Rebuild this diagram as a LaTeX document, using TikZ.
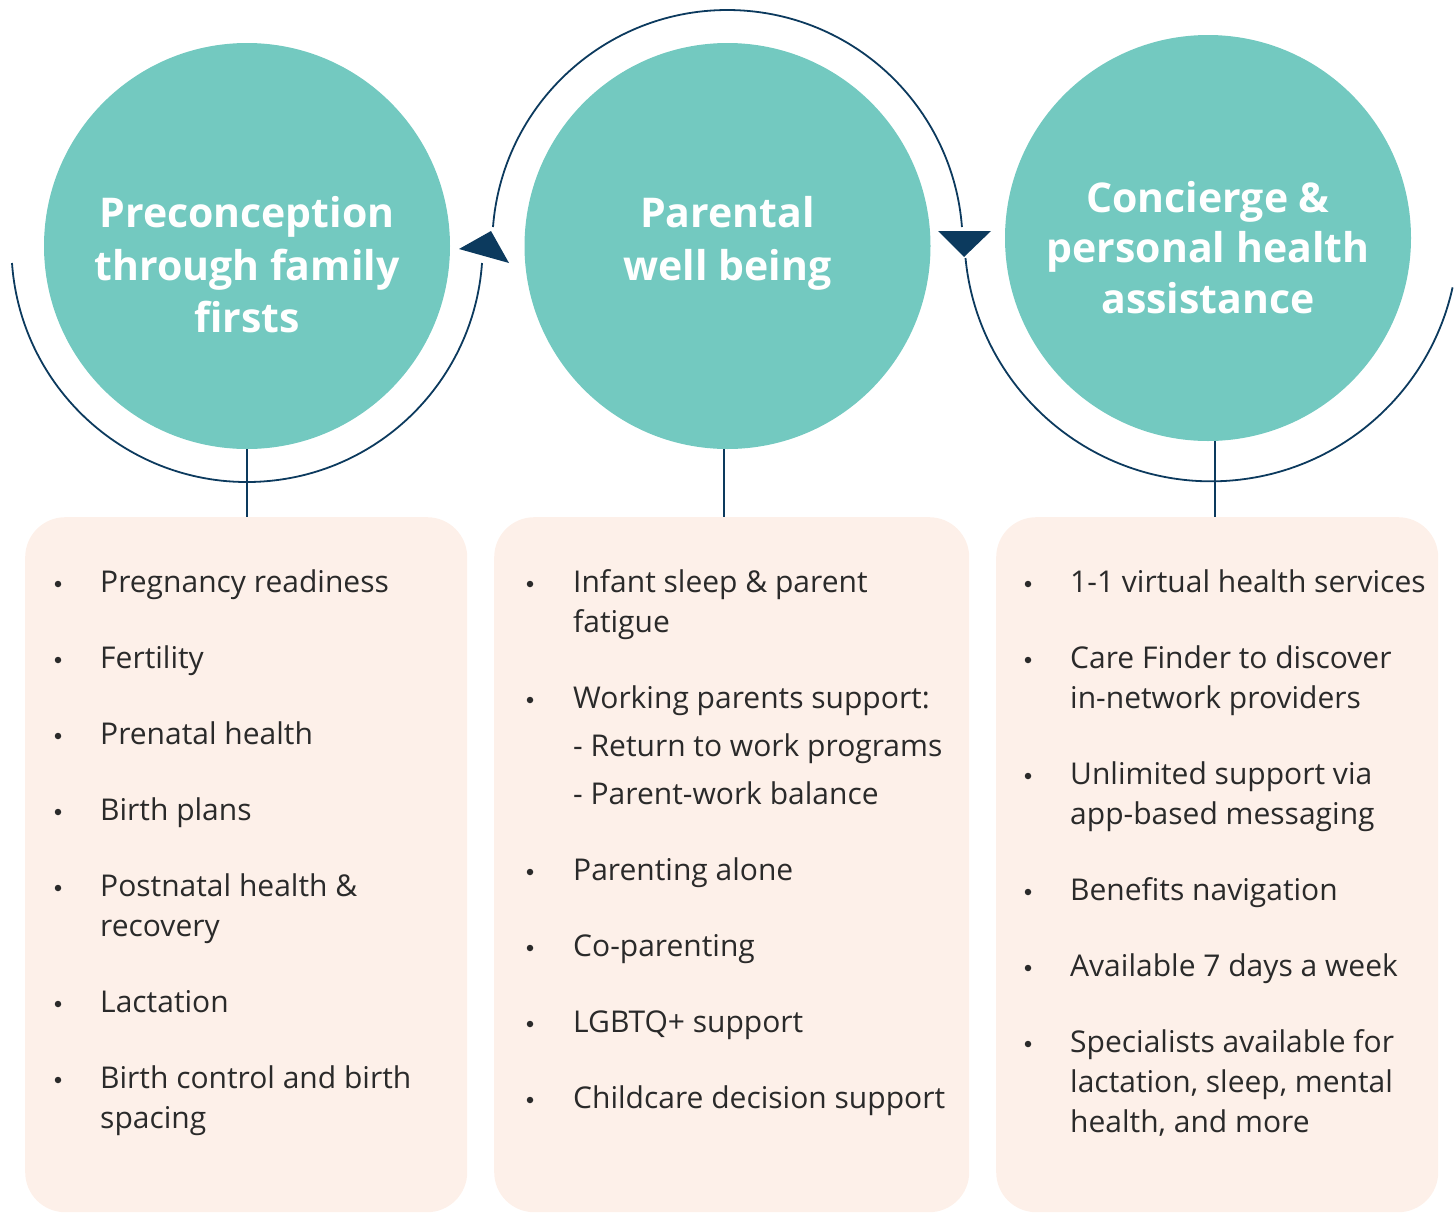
\documentclass[tikz,border=0pt]{standalone}
\usepackage{fontspec}
\setmainfont{Open Sans}
\definecolor{tealc}{HTML}{73C9C0}
\definecolor{navyc}{HTML}{0C3A5E}
\definecolor{peachc}{HTML}{FDF0E9}
\definecolor{textc}{HTML}{2A2A2A}
\begin{document}
\begin{tikzpicture}[x=1pt,y=-1pt,
  circ/.style={circle,fill=tealc,minimum size=406pt,inner sep=0pt},
  box/.style={rectangle,fill=peachc,rounded corners=40pt,anchor=north west,inner sep=0pt},
  ttl/.style={anchor=base,text=white,font=\fontsize{41}{50}\selectfont\bfseries,inner sep=0pt},
  item/.style={anchor=base west,text=textc,font=\fontsize{30}{34}\selectfont,inner sep=0pt},
  bul/.style={circle,fill=textc,minimum size=6.5pt,inner sep=0pt},
  ring/.style={draw=navyc,line width=1.8pt},
  conn/.style={draw=navyc,line width=2.6pt},
  head/.style={fill=navyc}]
\useasboundingbox (0,0) rectangle (1454,1213);
% circles
\node[circ] (c1) at (247,246) {};
\node[circ] (c2) at (727.5,246) {};
\node[circ] (c3) at (1208,238) {};
% titles
\node[ttl] (c1t1) at (247,227) {Preconception};
\node[ttl] (c1t2) at (247,280) {through family};
\node[ttl] (c1t3) at (247,332) {firsts};
\node[ttl] (c2t1) at (727.5,227) {Parental};
\node[ttl] (c2t2) at (727.5,280) {well being};
\node[ttl] (c3t1) at (1208,212) {Concierge \&};
\node[ttl] (c3t2) at (1208,262) {personal health};
\node[ttl] (c3t3) at (1208,313) {assistance};
% rings
\draw[ring] (12,263) arc[start angle=175.96,end angle=4.04,radius=235.6];
\draw[ring] (493,227) arc[start angle=184.44,end angle=355.56,radius=235.2];
\draw[ring] (965.5,258) arc[start angle=174.5,end angle=12.4,radius=247];
% arrow heads
\coordinate (h1a) at (491,231);
\coordinate (h1b) at (459,249);
\coordinate (h1c) at (509,263);
\coordinate (h2a) at (938,231);
\coordinate (h2b) at (991,231);
\coordinate (h2c) at (964,257);
\fill[head] (h1a) -- (h1b) -- (h1c) -- cycle;
\fill[head] (h2a) -- (h2b) -- (h2c) -- cycle;
% boxes
\node[box,minimum width=442pt,minimum height=695pt] (b1) at (25,517) {};
\node[box,minimum width=475pt,minimum height=695pt] (b2) at (494,517) {};
\node[box,minimum width=442pt,minimum height=695pt] (b3) at (996,517) {};
% connectors
\draw[conn] (c1.south) -- (c1.south |- b1.north);
\draw[conn] (724,449) -- (724,517);
\draw[conn] (1215,441) -- (1215,517);
% box 1
\foreach \i/\y in {1/584,2/660,3/736,4/812,5/888,6/1004,7/1080}
  \node[bul] (b1d\i) at (58,\y) {};
\node[item] (b1l1) at (100,592) {Pregnancy readiness};
\node[item] (b1l2) at (100,668) {Fertility};
\node[item] (b1l3) at (100,744) {Prenatal health};
\node[item] (b1l4) at (100,820) {Birth plans};
\node[item] (b1l5) at (100,896) {Postnatal health \&};
\node[item] (b1l6) at (100,936) {recovery};
\node[item] (b1l7) at (100,1012) {Lactation};
\node[item] (b1l8) at (100,1088) {Birth control and birth};
\node[item] (b1l9) at (100,1128) {spacing};
% box 2
\foreach \i/\y in {1/584,2/700,3/872,4/948,5/1024,6/1100}
  \node[bul] (b2d\i) at (530,\y) {};
\node[item] (b2l1) at (573,592) {Infant sleep \& parent};
\node[item] (b2l2) at (573,632) {fatigue};
\node[item] (b2l3) at (573,708) {Working parents support:};
\node[item] (b2l4) at (573,756) {- Return to work programs};
\node[item] (b2l5) at (573,804) {- Parent-work balance};
\node[item] (b2l6) at (573,880) {Parenting alone};
\node[item] (b2l7) at (573,956) {Co-parenting};
\node[item] (b2l8) at (573,1032) {LGBTQ+ support};
\node[item] (b2l9) at (573,1108) {Childcare decision support};
% box 3
\foreach \i/\y in {1/584,2/660,3/776,4/892,5/968,6/1044}
  \node[bul] (b3d\i) at (1028,\y) {};
\node[item] (b3l1) at (1070,592) {1-1 virtual health services};
\node[item] (b3l2) at (1070,668) {Care Finder to discover};
\node[item] (b3l3) at (1070,708) {in-network providers};
\node[item] (b3l4) at (1070,784) {Unlimited support via};
\node[item] (b3l5) at (1070,824) {app-based messaging};
\node[item] (b3l6) at (1070,900) {Benefits navigation};
\node[item] (b3l7) at (1070,976) {Available 7 days a week};
\node[item] (b3l8) at (1070,1052) {Specialists available for};
\node[item] (b3l9) at (1070,1092) {lactation, sleep, mental};
\node[item] (b3l10) at (1070,1132) {health, and more};
\end{tikzpicture}
\end{document}
